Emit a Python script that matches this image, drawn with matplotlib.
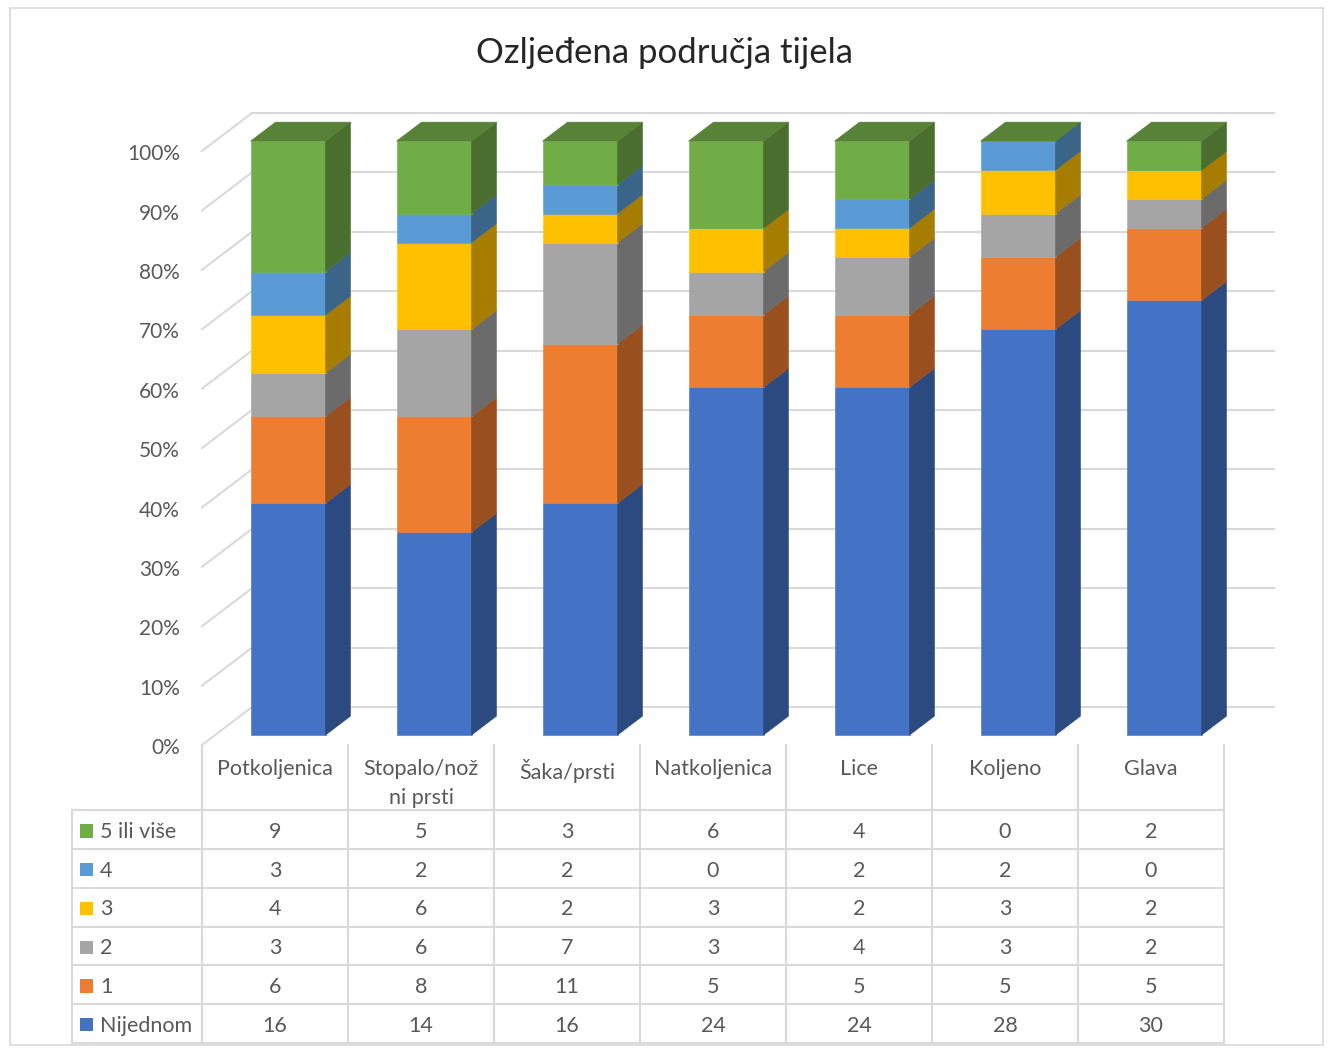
import numpy as np
import matplotlib
matplotlib.use("Agg")
import matplotlib.pyplot as plt
from matplotlib.patches import Polygon, Rectangle

plt.rcParams['font.family'] = ['Lato', 'DejaVu Sans']

# Podaci
kategorije = ["Potkoljenica", "Stopalo/nož\nni prsti", "Šaka/prsti", "Natkoljenica",
              "Lice", "Koljeno", "Glava"]
serije = ["Nijednom", "1", "2", "3", "4", "5 ili više"]
nijednom = [16, 14, 16, 24, 24, 28, 30]
jedan = [6, 8, 11, 5, 5, 5, 5]
dva = [3, 6, 7, 3, 4, 3, 2]
tri = [4, 6, 2, 3, 2, 3, 2]
cetiri = [3, 2, 2, 0, 2, 2, 0]
pet_vise = [9, 5, 3, 6, 4, 0, 2]
vrijednosti = [nijednom, jedan, dva, tri, cetiri, pet_vise]

boje = ["#4472C4", "#ED7D31", "#A5A5A5", "#FFC000", "#5B9BD5", "#70AD47"]
boje_bok = ["#2B4A80", "#9A4F1E", "#6B6B6B", "#A67D00", "#3A6488", "#4A6E2D"]
boja_vrh = "#588237"

W, H = 1330, 1050
fig = plt.figure(figsize=(W / 100, H / 100), dpi=100)

# glavna os (pikseli: x 60..1290, y 100..745)
ax = fig.add_axes([60 / W, (H - 745) / H, 1230 / W, 645 / H])
px_kat = 146.0
px_pct = 5.94
ax.set_xlim(-0.5 - (202 - 60) / px_kat, -0.5 + (1290 - 202) / px_kat)
ax.set_ylim(0, 645 / px_pct)
ax.axis('off')

dxw = 50 / px_kat   # dubina zida
dyw = 38 / px_pct
d0, d1 = 0.26, 0.76  # dubina stupaca
sirina = 75 / px_kat
n = len(kategorije)
siva = "#D9D9D9"
tekst = "#595959"
fs = 15.5

# mreža
for p in range(0, 101, 10):
    ax.plot([-0.5, -0.5 + dxw], [p, p + dyw], color=siva, lw=1.5, zorder=1)
    ax.plot([-0.5 + dxw, n - 0.5 + dxw], [p + dyw, p + dyw], color=siva, lw=1.5, zorder=1)
    ax.text(-0.65, p - 0.55, f"{p}%", ha='right', va='center', fontsize=15, color=tekst)

# stupci (100% složeni)
vals = np.array(vrijednosti, dtype=float)
pct = vals / vals.sum(axis=0) * 100
dno = np.zeros(n)
fx0, fy0 = d0 * dxw, d0 * dyw
bx1, by1 = d1 * dxw, d1 * dyw
for s in range(len(serije)):
    for i in range(n):
        b, h = dno[i], pct[s, i]
        xl = i - sirina / 2
        xr = i + sirina / 2
        # prednja strana
        ax.bar(xl + fx0, h, bottom=b + fy0, width=sirina, align='edge',
               color=boje[s], edgecolor=boje[s], lw=0.4, zorder=3)
        # bočna strana
        ax.add_patch(Polygon([(xr + fx0, b + fy0), (xr + bx1, b + by1),
                              (xr + bx1, b + h + by1), (xr + fx0, b + h + fy0)],
                             closed=True, fc=boje_bok[s], ec=boje_bok[s], lw=0.4, zorder=3))
    dno += pct[s]

# gornja strana
for i in range(n):
    xl = i - sirina / 2
    xr = i + sirina / 2
    t = dno[i]
    ax.add_patch(Polygon([(xl + fx0, t + fy0), (xr + fx0, t + fy0),
                          (xr + bx1, t + by1), (xl + bx1, t + by1)],
                         closed=True, fc=boja_vrh, ec=boja_vrh, lw=0.4, zorder=4))

# naslov
fig.text(0.5, (H - 53) / H, "Ozljeđena područja tijela", ha='center', va='center',
         fontsize=25, color="#262626")

# tablica podataka
tx = fig.add_axes([60 / W, (H - 1043) / H, 1230 / W, 298 / H])
tx.set_xlim(ax.get_xlim())
zag = 1.69
tx.set_ylim(zag + 6, 0)
tx.axis('off')
x_lijevo = -0.5 - 130 / px_kat
for k in range(7):
    tx.plot([x_lijevo, n - 0.5], [zag + k, zag + k], color=siva, lw=1.5, clip_on=False)
tx.plot([x_lijevo, x_lijevo], [zag, zag + 6], color=siva, lw=1.5, clip_on=False)
for i in range(n + 1):
    tx.plot([i - 0.5, i - 0.5], [0, zag + 6], color=siva, lw=1.5, clip_on=False)
for i, kat in enumerate(kategorije):
    tx.text(i, 0.37, kat, ha='center', va='top', fontsize=fs, color=tekst,
            linespacing=1.55)
for r in range(6):
    s = len(serije) - 1 - r
    yc = zag + r + 0.55
    tx.add_patch(Rectangle((x_lijevo + 8 / px_kat, yc - 0.19), 13 / px_kat, 0.34,
                           fc=boje[s], ec='none', clip_on=False))
    tx.text(x_lijevo + 28 / px_kat, yc, serije[s], ha='left', va='center',
            fontsize=fs, color=tekst)
    for i in range(n):
        tx.text(i, yc, str(vrijednosti[s][i]), ha='center', va='center',
                fontsize=fs, color=tekst)

# okvir grafikona
fig.patches.append(Rectangle((10 / W, 5 / H), 1313 / W, 1037 / H, transform=fig.transFigure,
                             fill=False, ec=siva, lw=1.2))

fig.savefig("out.png", dpi=100)
